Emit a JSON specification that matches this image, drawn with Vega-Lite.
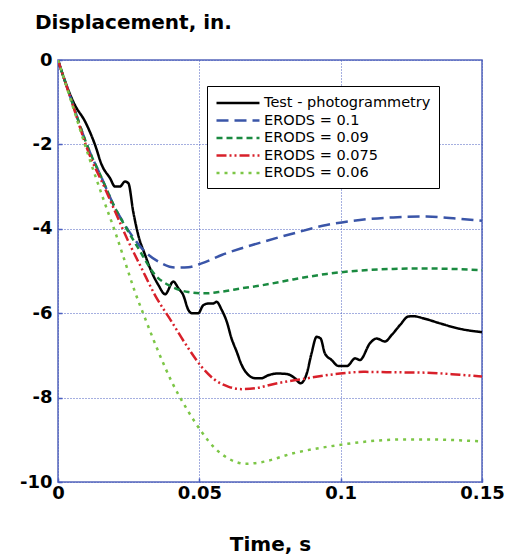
{
  "$schema": "https://vega.github.io/schema/vega-lite/v6.json",
  "width": 424,
  "height": 422,
  "autosize": {"type": "none"},
  "padding": {"left": 58, "top": 60, "right": 24, "bottom": 75},
  "background": "white",
  "title": {"text": "Displacement, in.", "anchor": "start", "frame": "group", "dx": -23, "offset": 18, "fontSize": 20, "font": "DejaVu Sans", "fontWeight": "bold", "color": "black"},
  "config": {
    "view": {"stroke": "#5566bb", "strokeWidth": 1.5},
    "axis": {"domain": false, "ticks": true, "tickSize": -4, "tickColor": "#4b5fc0", "tickWidth": 1.5, "grid": true, "gridColor": "#4b5fc0", "gridDash": [1, 2], "gridWidth": 1, "gridOpacity": 1,
      "labelFont": "DejaVu Sans", "labelFontWeight": "bold", "labelFontSize": 18, "labelColor": "black",
      "titleFont": "DejaVu Sans", "titleFontWeight": "bold", "titleFontSize": 20, "titleColor": "black"}
  },
  "data": {"values": [
    {"s":"Test - photogrammetry","t":0,"d":0},{"s":"Test - photogrammetry","t":0.0025,"d":-0.51},{"s":"Test - photogrammetry","t":0.006,"d":-1.07},{"s":"Test - photogrammetry","t":0.0096,"d":-1.46},{"s":"Test - photogrammetry","t":0.0131,"d":-2.01},{"s":"Test - photogrammetry","t":0.0155,"d":-2.49},{"s":"Test - photogrammetry","t":0.0184,"d":-2.8},{"s":"Test - photogrammetry","t":0.0202,"d":-3.0},{"s":"Test - photogrammetry","t":0.0219,"d":-3.0},{"s":"Test - photogrammetry","t":0.0237,"d":-2.88},{"s":"Test - photogrammetry","t":0.0249,"d":-2.92},{"s":"Test - photogrammetry","t":0.0266,"d":-3.59},{"s":"Test - photogrammetry","t":0.0284,"d":-4.15},{"s":"Test - photogrammetry","t":0.0308,"d":-4.62},{"s":"Test - photogrammetry","t":0.0331,"d":-5.02},{"s":"Test - photogrammetry","t":0.0355,"d":-5.33},{"s":"Test - photogrammetry","t":0.0379,"d":-5.55},{"s":"Test - photogrammetry","t":0.0408,"d":-5.25},{"s":"Test - photogrammetry","t":0.0426,"d":-5.41},{"s":"Test - photogrammetry","t":0.0443,"d":-5.57},{"s":"Test - photogrammetry","t":0.0461,"d":-5.92},{"s":"Test - photogrammetry","t":0.0473,"d":-6.0},{"s":"Test - photogrammetry","t":0.0496,"d":-6.0},{"s":"Test - photogrammetry","t":0.0514,"d":-5.81},{"s":"Test - photogrammetry","t":0.0532,"d":-5.77},{"s":"Test - photogrammetry","t":0.0549,"d":-5.77},{"s":"Test - photogrammetry","t":0.0561,"d":-5.73},{"s":"Test - photogrammetry","t":0.0579,"d":-5.92},{"s":"Test - photogrammetry","t":0.0597,"d":-6.2},{"s":"Test - photogrammetry","t":0.0614,"d":-6.6},{"s":"Test - photogrammetry","t":0.0632,"d":-6.91},{"s":"Test - photogrammetry","t":0.065,"d":-7.23},{"s":"Test - photogrammetry","t":0.0673,"d":-7.46},{"s":"Test - photogrammetry","t":0.0697,"d":-7.54},{"s":"Test - photogrammetry","t":0.072,"d":-7.54},{"s":"Test - photogrammetry","t":0.0744,"d":-7.47},{"s":"Test - photogrammetry","t":0.0774,"d":-7.43},{"s":"Test - photogrammetry","t":0.0809,"d":-7.44},{"s":"Test - photogrammetry","t":0.0838,"d":-7.54},{"s":"Test - photogrammetry","t":0.0858,"d":-7.66},{"s":"Test - photogrammetry","t":0.088,"d":-7.43},{"s":"Test - photogrammetry","t":0.0897,"d":-6.95},{"s":"Test - photogrammetry","t":0.0915,"d":-6.56},{"s":"Test - photogrammetry","t":0.0929,"d":-6.6},{"s":"Test - photogrammetry","t":0.0944,"d":-6.95},{"s":"Test - photogrammetry","t":0.0968,"d":-7.11},{"s":"Test - photogrammetry","t":0.0992,"d":-7.25},{"s":"Test - photogrammetry","t":0.1023,"d":-7.25},{"s":"Test - photogrammetry","t":0.1051,"d":-7.07},{"s":"Test - photogrammetry","t":0.1068,"d":-7.11},{"s":"Test - photogrammetry","t":0.1104,"d":-6.71},{"s":"Test - photogrammetry","t":0.1127,"d":-6.6},{"s":"Test - photogrammetry","t":0.1157,"d":-6.67},{"s":"Test - photogrammetry","t":0.118,"d":-6.52},{"s":"Test - photogrammetry","t":0.121,"d":-6.28},{"s":"Test - photogrammetry","t":0.1239,"d":-6.08},{"s":"Test - photogrammetry","t":0.1257,"d":-6.07},{"s":"Test - photogrammetry","t":0.1292,"d":-6.12},{"s":"Test - photogrammetry","t":0.1351,"d":-6.24},{"s":"Test - photogrammetry","t":0.1422,"d":-6.37},{"s":"Test - photogrammetry","t":0.15,"d":-6.45},
    {"s":"ERODS = 0.1","t":0,"d":0},{"s":"ERODS = 0.1","t":0.005,"d":-1.0},{"s":"ERODS = 0.1","t":0.0107,"d":-2.09},{"s":"ERODS = 0.1","t":0.0155,"d":-2.8},{"s":"ERODS = 0.1","t":0.0202,"d":-3.51},{"s":"ERODS = 0.1","t":0.0237,"d":-3.91},{"s":"ERODS = 0.1","t":0.0296,"d":-4.46},{"s":"ERODS = 0.1","t":0.0367,"d":-4.82},{"s":"ERODS = 0.1","t":0.0414,"d":-4.92},{"s":"ERODS = 0.1","t":0.0461,"d":-4.91},{"s":"ERODS = 0.1","t":0.0508,"d":-4.82},{"s":"ERODS = 0.1","t":0.0579,"d":-4.62},{"s":"ERODS = 0.1","t":0.065,"d":-4.46},{"s":"ERODS = 0.1","t":0.072,"d":-4.32},{"s":"ERODS = 0.1","t":0.0832,"d":-4.11},{"s":"ERODS = 0.1","t":0.095,"d":-3.91},{"s":"ERODS = 0.1","t":0.1068,"d":-3.79},{"s":"ERODS = 0.1","t":0.1186,"d":-3.73},{"s":"ERODS = 0.1","t":0.1304,"d":-3.71},{"s":"ERODS = 0.1","t":0.1398,"d":-3.75},{"s":"ERODS = 0.1","t":0.15,"d":-3.81},
    {"s":"ERODS = 0.09","t":0,"d":0},{"s":"ERODS = 0.09","t":0.005,"d":-1.0},{"s":"ERODS = 0.09","t":0.0107,"d":-2.09},{"s":"ERODS = 0.09","t":0.0155,"d":-2.8},{"s":"ERODS = 0.09","t":0.0202,"d":-3.51},{"s":"ERODS = 0.09","t":0.0237,"d":-3.93},{"s":"ERODS = 0.09","t":0.0284,"d":-4.46},{"s":"ERODS = 0.09","t":0.0343,"d":-5.09},{"s":"ERODS = 0.09","t":0.0402,"d":-5.37},{"s":"ERODS = 0.09","t":0.0461,"d":-5.5},{"s":"ERODS = 0.09","t":0.052,"d":-5.53},{"s":"ERODS = 0.09","t":0.0579,"d":-5.49},{"s":"ERODS = 0.09","t":0.065,"d":-5.41},{"s":"ERODS = 0.09","t":0.072,"d":-5.34},{"s":"ERODS = 0.09","t":0.0832,"d":-5.2},{"s":"ERODS = 0.09","t":0.095,"d":-5.07},{"s":"ERODS = 0.09","t":0.1068,"d":-4.99},{"s":"ERODS = 0.09","t":0.1186,"d":-4.95},{"s":"ERODS = 0.09","t":0.1304,"d":-4.94},{"s":"ERODS = 0.09","t":0.15,"d":-4.98},
    {"s":"ERODS = 0.075","t":0,"d":0},{"s":"ERODS = 0.075","t":0.005,"d":-1.02},{"s":"ERODS = 0.075","t":0.0107,"d":-2.17},{"s":"ERODS = 0.075","t":0.0166,"d":-3.04},{"s":"ERODS = 0.075","t":0.0202,"d":-3.59},{"s":"ERODS = 0.075","t":0.0249,"d":-4.3},{"s":"ERODS = 0.075","t":0.0296,"d":-4.94},{"s":"ERODS = 0.075","t":0.0343,"d":-5.57},{"s":"ERODS = 0.075","t":0.0402,"d":-6.2},{"s":"ERODS = 0.075","t":0.0461,"d":-6.83},{"s":"ERODS = 0.075","t":0.0508,"d":-7.27},{"s":"ERODS = 0.075","t":0.0555,"d":-7.58},{"s":"ERODS = 0.075","t":0.0602,"d":-7.74},{"s":"ERODS = 0.075","t":0.065,"d":-7.8},{"s":"ERODS = 0.075","t":0.0697,"d":-7.78},{"s":"ERODS = 0.075","t":0.0768,"d":-7.67},{"s":"ERODS = 0.075","t":0.0856,"d":-7.57},{"s":"ERODS = 0.075","t":0.0998,"d":-7.43},{"s":"ERODS = 0.075","t":0.108,"d":-7.39},{"s":"ERODS = 0.075","t":0.1186,"d":-7.4},{"s":"ERODS = 0.075","t":0.1304,"d":-7.41},{"s":"ERODS = 0.075","t":0.1422,"d":-7.46},{"s":"ERODS = 0.075","t":0.15,"d":-7.5},
    {"s":"ERODS = 0.06","t":0,"d":0},{"s":"ERODS = 0.06","t":0.005,"d":-1.05},{"s":"ERODS = 0.06","t":0.0107,"d":-2.25},{"s":"ERODS = 0.06","t":0.0166,"d":-3.4},{"s":"ERODS = 0.06","t":0.0202,"d":-4.07},{"s":"ERODS = 0.06","t":0.0237,"d":-4.78},{"s":"ERODS = 0.06","t":0.0272,"d":-5.49},{"s":"ERODS = 0.06","t":0.0308,"d":-6.12},{"s":"ERODS = 0.06","t":0.0355,"d":-6.91},{"s":"ERODS = 0.06","t":0.0402,"d":-7.62},{"s":"ERODS = 0.06","t":0.0461,"d":-8.33},{"s":"ERODS = 0.06","t":0.0508,"d":-8.81},{"s":"ERODS = 0.06","t":0.0555,"d":-9.2},{"s":"ERODS = 0.06","t":0.0602,"d":-9.44},{"s":"ERODS = 0.06","t":0.0664,"d":-9.57},{"s":"ERODS = 0.06","t":0.072,"d":-9.53},{"s":"ERODS = 0.06","t":0.0832,"d":-9.32},{"s":"ERODS = 0.06","t":0.0998,"d":-9.12},{"s":"ERODS = 0.06","t":0.1127,"d":-9.02},{"s":"ERODS = 0.06","t":0.124,"d":-8.99},{"s":"ERODS = 0.06","t":0.1304,"d":-8.99},{"s":"ERODS = 0.06","t":0.15,"d":-9.04}
  ]},
  "mark": {"type": "line", "strokeWidth": 2.5, "interpolate": "monotone", "clip": true},
  "encoding": {
    "x": {"field": "t", "type": "quantitative", "scale": {"domain": [0, 0.15], "nice": false},
      "axis": {"values": [0, 0.05, 0.1, 0.15], "labelExpr": "toString(datum.value)", "labelPadding": 6, "title": "Time, s", "titleY": 52, "labelFlush": false}},
    "y": {"field": "d", "type": "quantitative", "scale": {"domain": [-10, 0], "nice": false},
      "axis": {"values": [-10, -8, -6, -4, -2, 0], "labelExpr": "toString(datum.value)", "labelPadding": 10, "title": null}},
    "color": {"field": "s", "type": "nominal",
      "scale": {"domain": ["Test - photogrammetry", "ERODS = 0.1", "ERODS = 0.09", "ERODS = 0.075", "ERODS = 0.06"], "range": ["#000000", "#3a55a8", "#1a8a40", "#d8202a", "#7cc646"]},
      "legend": {"title": null, "orient": "none", "legendX": 149, "legendY": 26, "symbolType": "M-1,0H4.73", "symbolSize": 225, "symbolStrokeWidth": 2.5, "symbolFillColor": "transparent",
        "labelFont": "DejaVu Sans", "labelFontSize": 14.5, "labelColor": "black", "labelOffset": 31, "rowPadding": 1.5,
        "strokeColor": "black", "fillColor": "white", "padding": 8, "labelLimit": 300}},
    "strokeDash": {"field": "s", "type": "nominal",
      "scale": {"domain": ["Test - photogrammetry", "ERODS = 0.1", "ERODS = 0.09", "ERODS = 0.075", "ERODS = 0.06"], "range": [[1, 0], [12, 6], [6, 4], [10, 3, 2, 3, 2, 3], [3, 5]]},
      "legend": null}
  }
}
